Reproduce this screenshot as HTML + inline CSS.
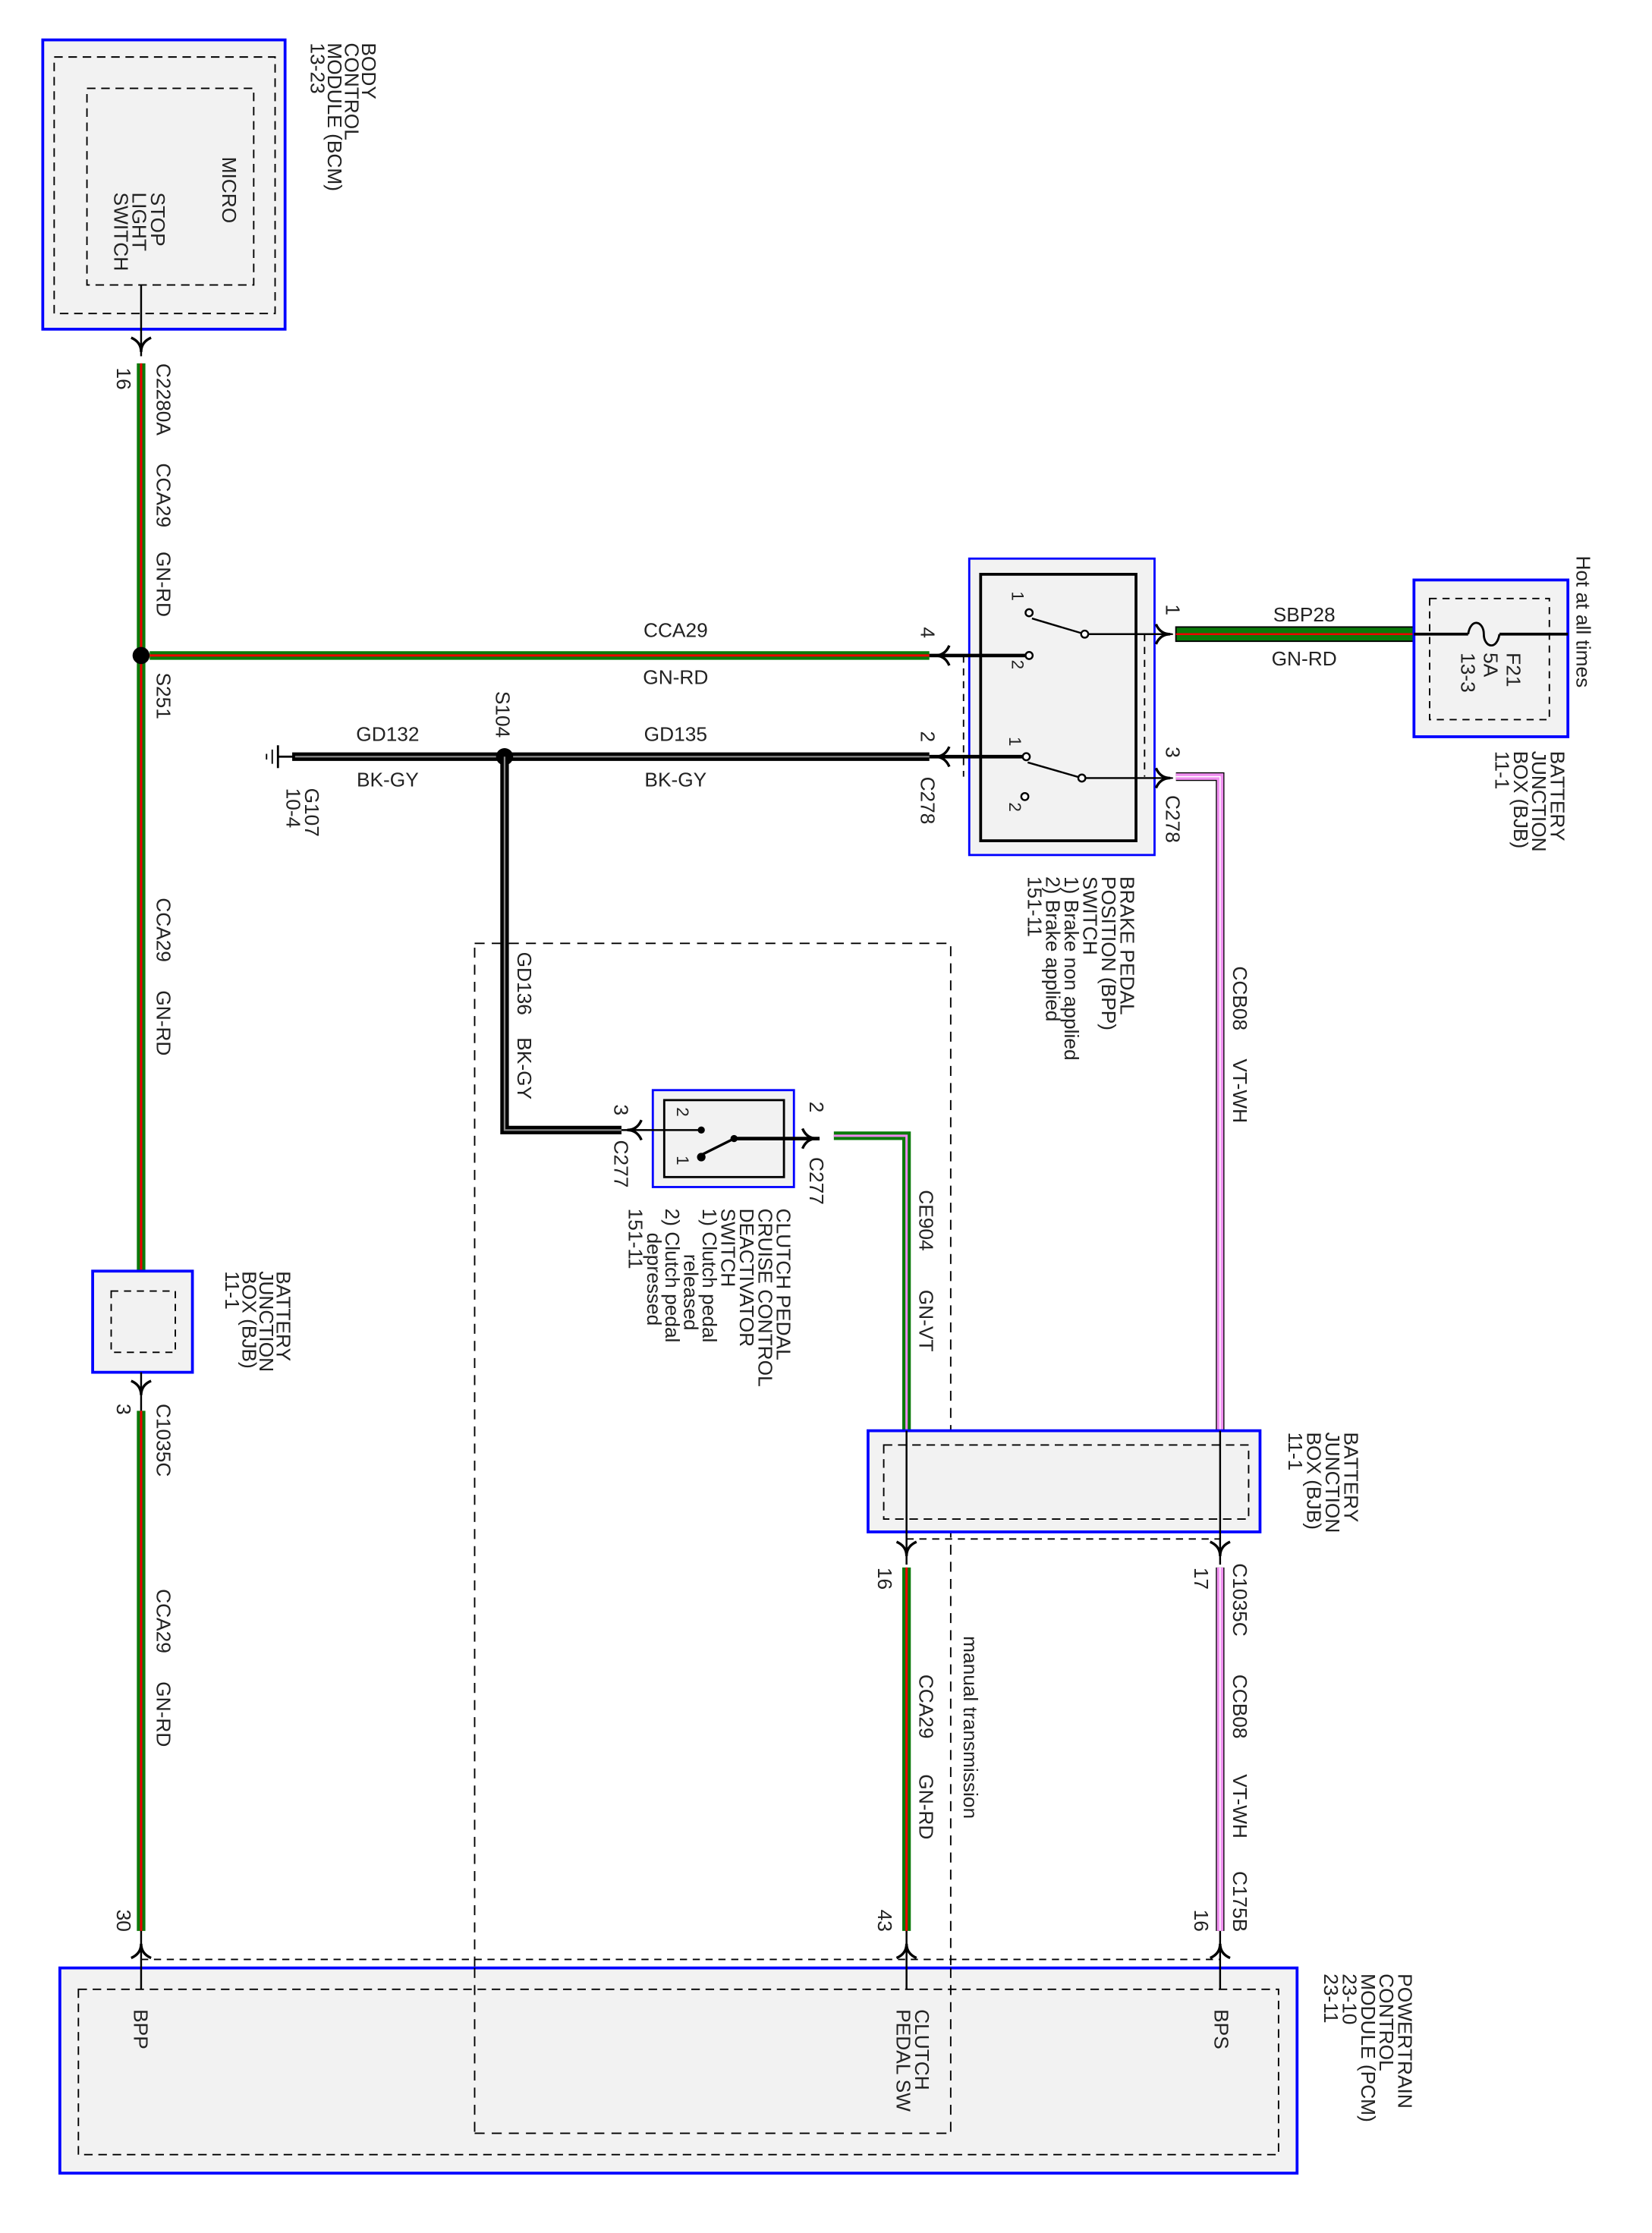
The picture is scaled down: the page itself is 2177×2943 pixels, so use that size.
<!DOCTYPE html>
<html><head><meta charset="utf-8"><style>html,body{margin:0;padding:0;background:#fff}svg{display:block}text{font-family:"Liberation Sans",Arial,sans-serif;fill:#222}</style></head>
<body>
<svg width="2177" height="2943" viewBox="0 0 1159 1567" preserveAspectRatio="none" xmlns="http://www.w3.org/2000/svg">
<defs>
<g id="cd"><path d="M-7,-6 Q0,-3 0,4 Q0,-3 7,-6" fill="none" stroke="#000" stroke-width="1.8"/><line x1="0" y1="-10" x2="0" y2="6" stroke="#000" stroke-width="1"/></g>
</defs>
<g font-size="14">
<!-- BCM -->
<rect x="30" y="28" width="170" height="203" fill="#f2f2f2" stroke="#0000ff" stroke-width="2"/>
<rect x="38" y="40" width="155" height="180" fill="none" stroke="#000" stroke-dasharray="6,4"/>
<rect x="61" y="62" width="117" height="138" fill="none" stroke="#000" stroke-dasharray="6,4"/>
<text transform="translate(156,110) rotate(90)">MICRO</text>
<text transform="translate(106,135) rotate(90)">STOP</text>
<text transform="translate(93,135) rotate(90)">LIGHT</text>
<text transform="translate(80,135) rotate(90)">SWITCH</text>
<text transform="translate(254,30) rotate(90)">BODY</text>
<text transform="translate(242,30) rotate(90)">CONTROL</text>
<text transform="translate(230,30) rotate(90)">MODULE (BCM)</text>
<text transform="translate(218,30) rotate(90)">13-23</text>
<line x1="99" y1="200" x2="99" y2="250" stroke="#000" stroke-width="1.3"/>
<use href="#cd" x="99" y="243"/>

<g>
<line x1="99" y1="255" x2="99" y2="892" stroke="#0a7a0a" stroke-width="6"/>
<line x1="99" y1="255" x2="99" y2="892" stroke="#e00" stroke-width="1.6"/>
<line x1="99" y1="990" x2="99" y2="1355" stroke="#0a7a0a" stroke-width="6"/>
<line x1="99" y1="990" x2="99" y2="1355" stroke="#e00" stroke-width="1.6"/>
</g>
<circle cx="99" cy="460" r="6" fill="#000"/>
<text transform="translate(82,258) rotate(90)">16</text>
<text transform="translate(110,255) rotate(90)">C2280A</text>
<text transform="translate(110,325) rotate(90)">CCA29</text>
<text transform="translate(110,387) rotate(90)">GN-RD</text>
<text transform="translate(110,472) rotate(90)">S251</text>
<text transform="translate(110,630) rotate(90)">CCA29</text>
<text transform="translate(110,695) rotate(90)">GN-RD</text>
<rect x="65" y="892" width="70" height="71" fill="#f2f2f2" stroke="#0000ff" stroke-width="2"/>
<rect x="78" y="906" width="45" height="43" fill="none" stroke="#000" stroke-dasharray="5,4"/>
<line x1="99" y1="963" x2="99" y2="990" stroke="#000" stroke-width="1.3"/>
<use href="#cd" x="99" y="975"/>
<text transform="translate(194,892) rotate(90)">BATTERY</text>
<text transform="translate(182,892) rotate(90)">JUNCTION</text>
<text transform="translate(170,892) rotate(90)">BOX (BJB)</text>
<text transform="translate(158,892) rotate(90)">11-1</text>
<text transform="translate(82,985) rotate(90)">3</text>
<text transform="translate(110,985) rotate(90)">C1035C</text>
<text transform="translate(110,1115) rotate(90)">CCA29</text>
<text transform="translate(110,1180) rotate(90)">GN-RD</text>
<text transform="translate(82,1340) rotate(90)">30</text>

<line x1="105" y1="460" x2="652" y2="460" stroke="#0a7a0a" stroke-width="6"/>
<line x1="105" y1="460" x2="652" y2="460" stroke="#e00" stroke-width="1.6"/>
<text x="474" y="447" text-anchor="middle">CCA29</text>
<text x="474" y="480" text-anchor="middle">GN-RD</text>
<text transform="translate(646,440) rotate(90)">4</text>

<line x1="205" y1="531" x2="652" y2="531" stroke="#000" stroke-width="6"/>
<line x1="205" y1="531" x2="652" y2="531" stroke="#888" stroke-width="1.2"/>
<circle cx="354" cy="531" r="6" fill="#000"/>
<line x1="195" y1="531" x2="207" y2="531" stroke="#000" stroke-width="1.5"/>
<line x1="195" y1="523" x2="195" y2="539" stroke="#000" stroke-width="1.5"/>
<line x1="191" y1="526" x2="191" y2="536" stroke="#000" stroke-width="1"/>
<line x1="187" y1="529" x2="187" y2="533" stroke="#000" stroke-width="1"/>
<text x="272" y="520" text-anchor="middle">GD132</text>
<text x="272" y="552" text-anchor="middle">BK-GY</text>
<text x="474" y="520" text-anchor="middle">GD135</text>
<text x="474" y="552" text-anchor="middle">BK-GY</text>
<text transform="translate(348,485) rotate(90)">S104</text>
<text transform="translate(214,553) rotate(90)">G107</text>
<text transform="translate(201,553) rotate(90)">10-4</text>
<text transform="translate(646,513) rotate(90)">2</text>
<text transform="translate(646,545) rotate(90)">C278</text>
<path d="M354,531 V793 H436" fill="none" stroke="#000" stroke-width="6"/>
<path d="M354,531 V793 H436" fill="none" stroke="#888" stroke-width="1.2"/>
<text transform="translate(363,668) rotate(90)">GD136</text>
<text transform="translate(363,728) rotate(90)">BK-GY</text>

<rect x="680" y="392" width="130" height="208" fill="#f2f2f2" stroke="#0000ff" stroke-width="1.5"/>
<rect x="688" y="403" width="109" height="187" fill="none" stroke="#000" stroke-width="2"/>
<line x1="676" y1="460" x2="676" y2="545" stroke="#000" stroke-dasharray="5,4"/>
<line x1="803" y1="445" x2="803" y2="545" stroke="#000" stroke-dasharray="5,4"/>
<line x1="652" y1="460" x2="722" y2="460" stroke="#000" stroke-width="2.5"/>
<line x1="652" y1="531" x2="720" y2="531" stroke="#000" stroke-width="2.5"/>
<g fill="#fff" stroke="#000" stroke-width="1.3">
<line x1="724" y1="434" x2="761" y2="445"/>
<line x1="721" y1="535" x2="759" y2="546"/>
<line x1="761" y1="445" x2="822" y2="445"/>
<line x1="759" y1="546" x2="822" y2="546"/>
<circle cx="722" cy="430" r="2.5"/><circle cx="722" cy="460" r="2.5"/>
<circle cx="761" cy="445" r="2.5"/><circle cx="720" cy="531" r="2.5"/>
<circle cx="719" cy="559" r="2.5"/><circle cx="759" cy="546" r="2.5"/>
</g>
<g transform="translate(660,460) rotate(90)"><use href="#cd"/></g>
<g transform="translate(660,531) rotate(90)"><use href="#cd"/></g>
<g transform="translate(817,445) rotate(-90)"><use href="#cd"/></g>
<g transform="translate(817,546) rotate(-90)"><use href="#cd"/></g>
<text transform="translate(710,415) rotate(90)" font-size="12">1</text>
<text transform="translate(710,463) rotate(90)" font-size="12">2</text>
<text transform="translate(708,517) rotate(90)" font-size="12">1</text>
<text transform="translate(708,563) rotate(90)" font-size="12">2</text>
<text transform="translate(818,424) rotate(90)">1</text>
<text transform="translate(818,524) rotate(90)">3</text>
<text transform="translate(818,558) rotate(90)">C278</text>
<text transform="translate(786,615) rotate(90)">BRAKE PEDAL</text>
<text transform="translate(773,615) rotate(90)">POSITION (BPP)</text>
<text transform="translate(760,615) rotate(90)">SWITCH</text>
<text transform="translate(747,615) rotate(90)">1) Brake non applied</text>
<text transform="translate(734,615) rotate(90)">2) Brake applied</text>
<text transform="translate(721,615) rotate(90)">151-11</text>

<rect x="825" y="440" width="167" height="10" fill="#0a7a0a" stroke="#000" stroke-width="1"/>
<line x1="825" y1="445" x2="992" y2="445" stroke="#e00" stroke-width="1.3"/>
<text x="915" y="436" text-anchor="middle">SBP28</text>
<text x="915" y="467" text-anchor="middle">GN-RD</text>
<rect x="992" y="407" width="108" height="110" fill="#f2f2f2" stroke="#0000ff" stroke-width="2"/>
<rect x="1003" y="420" width="84" height="85" fill="none" stroke="#000" stroke-dasharray="5,4"/>
<line x1="992" y1="445" x2="1030" y2="445" stroke="#000" stroke-width="2"/>
<line x1="1052" y1="445" x2="1100" y2="445" stroke="#000" stroke-width="2"/>
<path d="M1030,445 C1032,433 1041,436 1041,445 C1041,454 1050,457 1052,445" fill="none" stroke="#000" stroke-width="1.5"/>
<text transform="translate(1057,458) rotate(90)">F21</text>
<text transform="translate(1041,458) rotate(90)">5A</text>
<text transform="translate(1025,458) rotate(90)">13-3</text>
<text transform="translate(1106,390) rotate(90)">Hot at all times</text>
<text transform="translate(1088,527) rotate(90)">BATTERY</text>
<text transform="translate(1075,527) rotate(90)">JUNCTION</text>
<text transform="translate(1062,527) rotate(90)">BOX (BJB)</text>
<text transform="translate(1049,527) rotate(90)">11-1</text>

<path d="M825,545 H856 V1005" fill="none" stroke="#000" stroke-width="6"/>
<path d="M825,545 H856 V1005" fill="none" stroke="#f090f0" stroke-width="4.6"/>
<path d="M825,545 H856 V1005" fill="none" stroke="#fff" stroke-width="0.8"/>
<text transform="translate(865,678) rotate(90)">CCB08</text>
<text transform="translate(865,743) rotate(90)">VT-WH</text>

<rect x="333" y="662" width="334" height="835" fill="none" stroke="#000" stroke-dasharray="7,5" stroke-width="1"/>
<text transform="translate(676,1148) rotate(90)">manual transmission</text>

<rect x="458" y="765" width="99" height="68" fill="#f2f2f2" stroke="#0000ff" stroke-width="1.5"/>
<rect x="466" y="772" width="84" height="54" fill="none" stroke="#000" stroke-width="1.5"/>
<line x1="436" y1="793" x2="492" y2="793" stroke="#000" stroke-width="1.3"/>
<circle cx="492" cy="793" r="2.5" fill="#000"/>
<line x1="493" y1="810" x2="515" y2="799" stroke="#000" stroke-width="1.8"/>
<circle cx="492" cy="812" r="3" fill="#000"/>
<circle cx="515" cy="799" r="2.5" fill="#000"/>
<line x1="515" y1="799" x2="575" y2="799" stroke="#000" stroke-width="2.5"/>
<g transform="translate(444,793) rotate(90)"><use href="#cd"/></g>
<g transform="translate(569,799) rotate(-90)"><use href="#cd"/></g>
<text transform="translate(475,777) rotate(90)" font-size="12">2</text>
<text transform="translate(475,811) rotate(90)" font-size="12">1</text>
<text transform="translate(431,775) rotate(90)">3</text>
<text transform="translate(431,800) rotate(90)">C277</text>
<text transform="translate(568,773) rotate(90)">2</text>
<text transform="translate(568,812) rotate(90)">C277</text>
<text transform="translate(545,848) rotate(90)">CLUTCH PEDAL</text>
<text transform="translate(532,848) rotate(90)">CRUISE CONTROL</text>
<text transform="translate(519,848) rotate(90)">DEACTIVATOR</text>
<text transform="translate(506,848) rotate(90)">SWITCH</text>
<text transform="translate(493,848) rotate(90)">1) Clutch pedal</text>
<text transform="translate(480,880) rotate(90)">released</text>
<text transform="translate(467,848) rotate(90)">2) Clutch pedal</text>
<text transform="translate(454,865) rotate(90)">depressed</text>
<text transform="translate(441,848) rotate(90)">151-11</text>
<path d="M585,797 H636 V1005" fill="none" stroke="#0a7a0a" stroke-width="6"/>
<path d="M585,797 H636 V1005" fill="none" stroke="#f08cf0" stroke-width="1.6"/>
<text transform="translate(645,835) rotate(90)">CE904</text>
<text transform="translate(645,905) rotate(90)">GN-VT</text>

<rect x="609" y="1004" width="275" height="71" fill="#f2f2f2" stroke="#0000ff" stroke-width="2"/>
<rect x="620" y="1014" width="256" height="52" fill="none" stroke="#000" stroke-dasharray="6,4"/>
<line x1="636" y1="1004" x2="636" y2="1098" stroke="#000" stroke-width="1.3"/>
<line x1="856" y1="1004" x2="856" y2="1098" stroke="#000" stroke-width="1.3"/>
<line x1="636" y1="1080" x2="856" y2="1080" stroke="#000" stroke-dasharray="5,4"/>
<use href="#cd" x="636" y="1088"/>
<use href="#cd" x="856" y="1088"/>
<text transform="translate(943,1005) rotate(90)">BATTERY</text>
<text transform="translate(930,1005) rotate(90)">JUNCTION</text>
<text transform="translate(917,1005) rotate(90)">BOX (BJB)</text>
<text transform="translate(904,1005) rotate(90)">11-1</text>
<text transform="translate(616,1100) rotate(90)">16</text>
<text transform="translate(838,1100) rotate(90)">17</text>
<text transform="translate(865,1097) rotate(90)">C1035C</text>
<line x1="636" y1="1100" x2="636" y2="1355" stroke="#0a7a0a" stroke-width="6"/>
<line x1="636" y1="1100" x2="636" y2="1355" stroke="#e00" stroke-width="1.6"/>
<line x1="856" y1="1100" x2="856" y2="1355" stroke="#000" stroke-width="6"/>
<line x1="856" y1="1100" x2="856" y2="1355" stroke="#f090f0" stroke-width="4.6"/>
<line x1="856" y1="1100" x2="856" y2="1355" stroke="#fff" stroke-width="0.8"/>
<text transform="translate(645,1175) rotate(90)">CCA29</text>
<text transform="translate(645,1245) rotate(90)">GN-RD</text>
<text transform="translate(865,1175) rotate(90)">CCB08</text>
<text transform="translate(865,1245) rotate(90)">VT-WH</text>
<text transform="translate(865,1313) rotate(90)">C175B</text>
<text transform="translate(616,1340) rotate(90)">43</text>
<text transform="translate(838,1340) rotate(90)">16</text>

<rect x="42" y="1381" width="868" height="144" fill="#f2f2f2" stroke="#0000ff" stroke-width="2"/>
<rect x="55" y="1396" width="842" height="116" fill="none" stroke="#000" stroke-dasharray="6,4"/>
<line x1="99" y1="1375" x2="856" y2="1375" stroke="#000" stroke-dasharray="5,4"/>
<line x1="333" y1="1381" x2="333" y2="1497" stroke="#000" stroke-dasharray="7,5"/>
<line x1="667" y1="1381" x2="667" y2="1497" stroke="#000" stroke-dasharray="7,5"/>
<line x1="333" y1="1497" x2="667" y2="1497" stroke="#000" stroke-dasharray="7,5"/>
<g stroke="#000" stroke-width="1.3">
<line x1="99" y1="1355" x2="99" y2="1396"/>
<line x1="636" y1="1355" x2="636" y2="1396"/>
<line x1="856" y1="1355" x2="856" y2="1396"/>
</g>
<g transform="translate(99,1368) rotate(180)"><use href="#cd"/></g>
<g transform="translate(636,1368) rotate(180)"><use href="#cd"/></g>
<g transform="translate(856,1368) rotate(180)"><use href="#cd"/></g>
<text transform="translate(94,1410) rotate(90)">BPP</text>
<text transform="translate(642,1410) rotate(90)">CLUTCH</text>
<text transform="translate(629,1410) rotate(90)">PEDAL SW</text>
<text transform="translate(852,1410) rotate(90)">BPS</text>
<text transform="translate(981,1385) rotate(90)">POWERTRAIN</text>
<text transform="translate(968,1385) rotate(90)">CONTROL</text>
<text transform="translate(955,1385) rotate(90)">MODULE (PCM)</text>
<text transform="translate(942,1385) rotate(90)">23-10</text>
<text transform="translate(929,1385) rotate(90)">23-11</text>
</g>
</svg>
</body></html>
